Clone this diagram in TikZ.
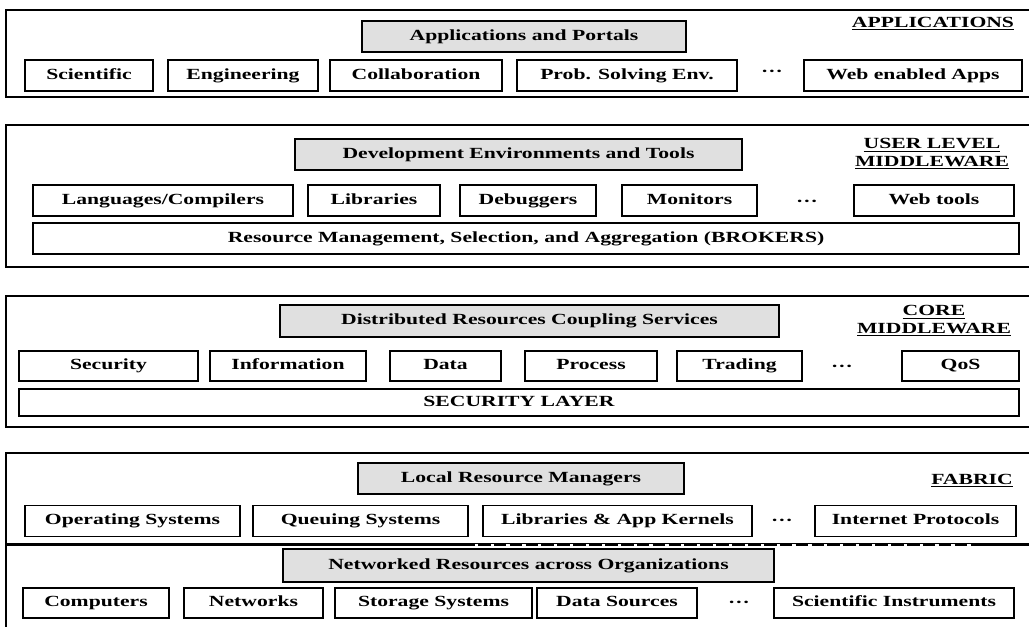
\documentclass[tikz,border=0pt]{standalone}
\usepackage{fontspec}
\setmainfont{Liberation Serif}[FakeStretch=1.4]
\tikzset{
  layerbox/.style={draw, line width=1.1pt},
  itembox/.style={draw, line width=1pt, fill=white, inner sep=0pt,
    minimum height=0.775cm, text height=8pt, text depth=2.5pt,
    font=\bfseries\fontsize{11}{13}\selectfont},
  headbox/.style={itembox, fill=black!12},
  tagtext/.style={font=\bfseries\fontsize{11}{12.5}\selectfont, align=center, inner sep=0pt},
  dotstext/.style={font=\bfseries\fontsize{11}{13}\selectfont, inner sep=0pt}
}
\begin{document}
\begin{tikzpicture}[x=0.025cm, y=-0.025cm]
  \clip (0,0) rectangle (1029,626);
  % applications
  \draw [layerbox] (6,10) rectangle (1035,97);
  \node [headbox, minimum width=324*0.025cm] (portals) at (524,36.5) {Applications and Portals};
  \node [tagtext] (apps) at (933,24) {\underline{APPLICATIONS}};
  \foreach \nm/\cx/\bw/\txt in {
    sci/89/128/Scientific, eng/243/150/Engineering,
    collab/416/172/Collaboration, prob/627/220/Prob. Solving Env.,
    webapps/913/218/Web enabled Apps
  }{
    \node [itembox, minimum width=\bw*0.025cm] (\nm) at (\cx,75.5) {\txt};
  }
  \node [dotstext] (appdots) at (772,73) {···};
  % user level middleware
  \draw [layerbox] (6,125) rectangle (1035,267);
  \node [headbox, minimum width=447*0.025cm] (devenv) at (518.5,154.5) {Development Environments and Tools};
  \node [tagtext] (userlevel) at (932,154) {\underline{USER LEVEL}\\\underline{MIDDLEWARE}};
  \foreach \nm/\cx/\bw/\txt in {
    lang/163/260/{Languages/Compilers}, libs/374/132/Libraries,
    debug/528/136/Debuggers, monit/689.5/135/Monitors,
    webtools/934/160/Web tools
  }{
    \node [itembox, minimum width=\bw*0.025cm] (\nm) at (\cx,200.5) {\txt};
  }
  \node [dotstext] (userdots) at (807,203) {···};
  \node [itembox, minimum width=986*0.025cm] (brokers) at (526,238.5)
    {Resource Management, Selection, and Aggregation (BROKERS)};
  % core middleware
  \draw [layerbox] (6,296) rectangle (1035,427);
  \node [headbox, minimum width=499*0.025cm, minimum height=0.8cm] (coupling) at (529.5,321) {Distributed Resources Coupling Services};
  \node [tagtext] (core) at (934,321) {\underline{CORE}\\\underline{MIDDLEWARE}};
  \foreach \nm/\cx/\bw/\txt in {
    secur/108.5/179/Security, info/288/156/Information,
    data/445.5/111/Data, proc/591/132/Process,
    trade/739.5/125/Trading, qos/960.5/117/QoS
  }{
    \node [itembox, minimum width=\bw*0.025cm, minimum height=0.75cm] (\nm) at (\cx,366) {\txt};
  }
  \node [dotstext] (coredots) at (842,368) {···};
  \node [itembox, minimum width=1000*0.025cm, minimum height=0.675cm] (seclayer) at (519,402.5) {SECURITY LAYER};
  % fabric
  \draw [layerbox] (6,453) rectangle (1035,640);
  \node [headbox, minimum width=326*0.025cm] (localrm) at (521,478.5) {Local Resource Managers};
  \node [tagtext] (fabric) at (972,481) {\underline{FABRIC}};
  \foreach \nm/\cx/\bw/\txt in {
    opsys/132.5/215/Operating Systems, queue/360.5/215/Queuing Systems,
    kernels/617.5/269/Libraries \& App Kernels, inet/915.5/201/Internet Protocols
  }{
    \node [itembox, minimum width=\bw*0.025cm] (\nm) at (\cx,521) {\txt};
  }
  \node [dotstext] (fabdots) at (782,522) {···};
  \draw [line width=1pt] (6,543.5) -- (1035,543.5);
  \draw [line width=1.5pt] (6,545) -- (462,545);
  \draw [line width=1.5pt, dash pattern=on 9pt off 2.3pt] (462,545) -- (973,545);
  \draw [line width=1.5pt] (973,545) -- (1035,545);
  \node [headbox, minimum width=491*0.025cm, minimum height=0.825cm] (networked) at (528.5,565.5) {Networked Resources across Organizations};
  \foreach \nm/\cx/\bw/\txt in {
    comp/96/146/Computers, netw/253.5/139/Networks,
    storage/433.5/197/Storage Systems, dsrc/617/160/Data Sources,
    instr/894/240/Scientific Instruments
  }{
    \node [itembox, minimum width=\bw*0.025cm, minimum height=0.75cm] (\nm) at (\cx,603) {\txt};
  }
  \node [dotstext] (resdots) at (739,604) {···};
\end{tikzpicture}
\end{document}
